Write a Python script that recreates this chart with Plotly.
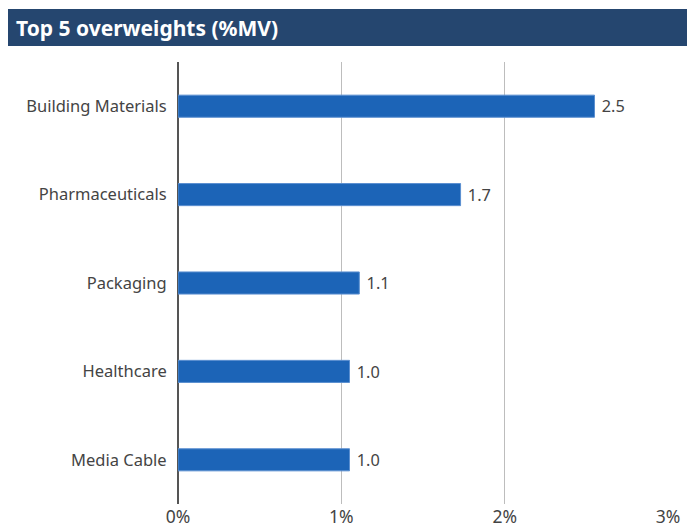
import plotly.graph_objects as go

categories = ["Building Materials", "Pharmaceuticals", "Packaging", "Healthcare", "Media Cable"]
values = [2.55, 1.73, 1.11, 1.05, 1.05]
value_labels = ["2.5", "1.7", "1.1", "1.0", "1.0"]
tick_vals = [0, 1, 2, 3]
tick_text = ["0%", "1%", "2%", "3%"]
title_text = "Top 5 overweights (%MV)"

OFF = 8  # page body margin offset in the browser
W, H = 695 - OFF, 532 - OFF
ml, mt = 178 - OFF, 62 - OFF
pw, ph = 490, 442
mr, mb = W - ml - pw, H - mt - ph

def px_x(x):
    return (x - OFF - ml) / pw

def px_y(y):
    return 1 + (mt - (y - OFF)) / ph

fig = go.Figure(go.Bar(
    x=values, y=categories, orientation="h",
    marker=dict(color="#1c64b7", line=dict(color="#5b8fd0", width=1)),
    width=0.25,
    text=["\u00a0" + t for t in value_labels], textposition="outside",
    textfont=dict(size=17, color="#444444", family="Noto Sans"),
    cliponaxis=False,
))

fig.update_layout(
    width=W, height=H,
    margin=dict(l=ml, r=mr, t=mt, b=mb, autoexpand=False),
    paper_bgcolor="white", plot_bgcolor="white",
    showlegend=False,
    font=dict(family="Noto Sans", color="#444444"),
    xaxis=dict(range=[0, 3], tickvals=tick_vals, ticktext=tick_text,
               showgrid=True, gridcolor="#bdbdbd", gridwidth=1.3,
               zeroline=True, zerolinecolor="#555555", zerolinewidth=1.5,
               ticks="", ticklen=0,
               tickfont=dict(size=17.5, color="#444444"), fixedrange=True,
               automargin=False),
    yaxis=dict(categoryorder="array", categoryarray=categories[::-1],
               autorange=False, range=[-0.5, 4.5],
               showgrid=False, zeroline=False, showline=False,
               ticks="outside", ticklen=7, tickcolor="rgba(0,0,0,0)",
               tickfont=dict(size=16.5, color="#444444"), automargin=False),
    shapes=[dict(type="rect", xref="paper", yref="paper",
                 x0=px_x(6), x1=px_x(690), y0=px_y(46), y1=px_y(9),
                 fillcolor="#25466f", line=dict(width=0), layer="below")],
    annotations=[dict(text="<b>" + title_text + "</b>", xref="paper", yref="paper",
                      x=px_x(14), y=px_y(28), xanchor="left", yanchor="middle",
                      showarrow=False, font=dict(size=21, color="white", family="Noto Sans"))],
)

fig.write_html("out.html")
